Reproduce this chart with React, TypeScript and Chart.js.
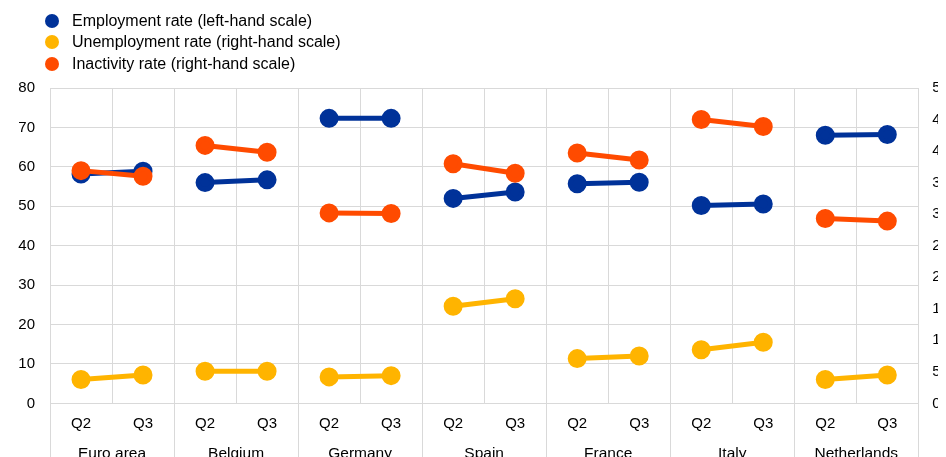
import React, { useEffect, useRef } from "react";
import { Chart, registerables } from "chart.js";

Chart.register(...registerables);

const countries = ["Euro area", "Belgium", "Germany", "Spain", "France", "Italy", "Netherlands"];
const quarters = ["Q2", "Q3"];

// Employment rate (left-hand scale), Q2/Q3 per country
const employment = [58.2, 58.9, 56.0, 56.7, 72.3, 72.3, 52.0, 53.6, 55.7, 56.1, 50.2, 50.6, 68.0, 68.2];
// Unemployment rate (right-hand scale)
const unemployment = [3.8, 4.5, 5.1, 5.1, 4.2, 4.4, 15.4, 16.6, 7.1, 7.5, 8.5, 9.7, 3.8, 4.5];
// Inactivity rate (right-hand scale)
const inactivity = [36.9, 36.0, 40.9, 39.8, 30.2, 30.1, 38.0, 36.5, 39.7, 38.6, 45.0, 43.9, 29.3, 28.9];

const leftTicks = { min: 0, max: 80, step: 10 };
const rightTicks = { min: 0, max: 50, step: 5 };

const BLUE = "#003299";
const YELLOW = "#ffb400";
const ORANGE = "#ff4b00";
const GRID = "#d9d9d9";
const FONT = '"Liberation Sans", Arial, sans-serif';

const legendItems = [
  { label: "Employment rate (left-hand scale)", color: BLUE },
  { label: "Unemployment rate (right-hand scale)", color: YELLOW },
  { label: "Inactivity rate (right-hand scale)", color: ORANGE },
];

const labels = countries.flatMap(() => quarters);

const groupLines = {
  id: "groupLines",
  afterDraw(chart: any) {
    const x = chart.scales.x;
    const { ctx, chartArea } = chart;
    const n = labels.length;
    const half = (x.getPixelForValue(1) - x.getPixelForValue(0)) / 2;
    ctx.save();
    ctx.strokeStyle = GRID;
    ctx.lineWidth = 1;
    for (let i = 0; i <= n; i += 2) {
      const px = Math.round(i < n ? x.getPixelForValue(i) - half : x.getPixelForValue(n - 1) + half) + 0.5;
      ctx.beginPath();
      ctx.moveTo(px, chartArea.bottom);
      ctx.lineTo(px, chart.height);
      ctx.stroke();
    }
    ctx.restore();
  },
};

function seriesDataset(label: string, data: number[], color: string, axis: string, order: number) {
  return {
    label,
    data,
    yAxisID: axis,
    borderColor: color,
    backgroundColor: color,
    pointBackgroundColor: color,
    pointBorderColor: color,
    borderWidth: 5,
    pointRadius: 7,
    pointHoverRadius: 7,
    order,
    segment: {
      borderColor: (ctx: any) => (ctx.p0DataIndex % 2 === 1 ? "transparent" : undefined),
    },
  };
}

export default function App() {
  const ref = useRef<HTMLCanvasElement>(null);

  useEffect(() => {
    if (!ref.current) return;
    const chart = new Chart(ref.current, {
      type: "line",
      data: {
        labels,
        datasets: [
          seriesDataset(legendItems[0].label, employment, BLUE, "y", 2),
          seriesDataset(legendItems[1].label, unemployment, YELLOW, "y1", 1),
          seriesDataset(legendItems[2].label, inactivity, ORANGE, "y1", 0),
        ],
      },
      options: {
        animation: false,
        responsive: false,
        maintainAspectRatio: false,
        layout: { padding: { top: 80, left: 10, right: 5, bottom: 0 } },
        plugins: { legend: { display: false }, tooltip: { enabled: false } },
        scales: {
          x: {
            type: "category",
            offset: true,
            grid: { color: GRID, lineWidth: 1, offset: true, drawTicks: false },
            border: { color: GRID },
            ticks: {
              color: "#000",
              font: { family: FONT, size: 15 },
              padding: 11.5,
              autoSkip: false,
              maxRotation: 0,
            },
          },
          x2: {
            type: "category",
            labels: countries,
            position: "bottom",
            offset: true,
            grid: { display: false, drawTicks: false },
            border: { display: false },
            ticks: {
              color: "#000",
              font: { family: FONT, size: 15.5 },
              padding: 0,
              autoSkip: false,
              maxRotation: 0,
            },
          },
          y: {
            position: "left",
            min: leftTicks.min,
            max: leftTicks.max,
            grid: { color: GRID, lineWidth: 1, drawTicks: false },
            border: { color: GRID },
            afterFit: (scale: any) => {
              scale.width = 32;
            },
            ticks: {
              stepSize: leftTicks.step,
              color: "#000",
              font: { family: FONT, size: 15 },
              padding: 15,
            },
          },
          y1: {
            position: "right",
            min: rightTicks.min,
            max: rightTicks.max,
            grid: { display: false, drawTicks: false },
            border: { color: GRID },
            ticks: {
              stepSize: rightTicks.step,
              color: "#000",
              font: { family: FONT, size: 15 },
              padding: 14,
            },
          },
        },
      },
      plugins: [groupLines],
    } as any);
    return () => chart.destroy();
  }, []);

  return (
    <div style={{ width: 938, height: 449, overflow: "hidden" }}>
      <div style={{ position: "relative", width: 960, height: 455 }}>
        <canvas ref={ref} width={960} height={455} style={{ display: "block" }} />
        <div
          style={{
            position: "absolute",
            left: 37,
            top: 2,
            fontFamily: FONT,
            fontSize: 16,
            color: "#000",
          }}
        >
          {legendItems.map((it) => (
            <div key={it.label} style={{ display: "flex", alignItems: "center", height: 21.5 }}>
              <span
                style={{
                  display: "inline-block",
                  width: 14,
                  height: 14,
                  borderRadius: "50%",
                  background: it.color,
                  marginRight: 13,
                }}
              />
              <span>{it.label}</span>
            </div>
          ))}
        </div>
      </div>
    </div>
  );
}
